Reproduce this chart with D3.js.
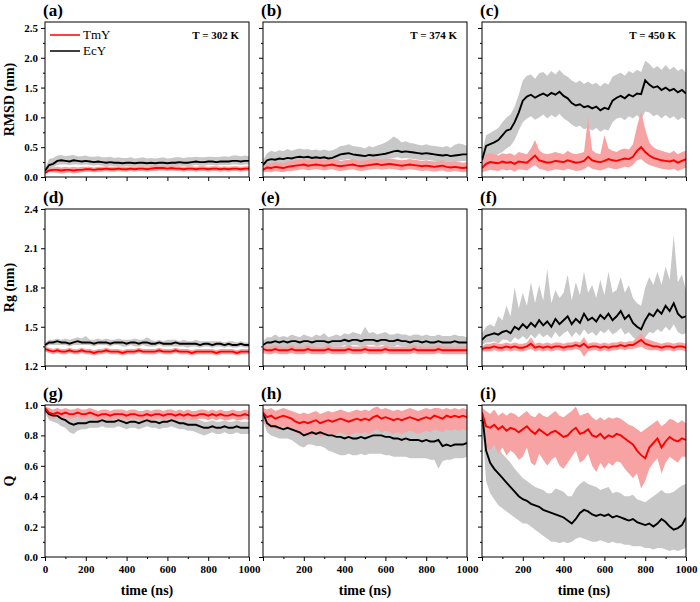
<!DOCTYPE html>
<html>
<head>
<meta charset="utf-8">
<script src="https://cdn.jsdelivr.net/npm/d3@7"></script>
<style>
  body { margin: 0; background: #fff; }
  svg { display: block; }
</style>
</head>
<body>
<div id="chart"></div>
<script>
// sampling grid (ns)
const time = d3.range(0, 1001, 20);

// ---- RMSD (nm) ----
const tmA = [0.07,0.11,0.12,0.12,0.11,0.12,0.12,0.11,0.12,0.12, 0.13,0.13,0.12,0.13,0.13,0.14,0.13,0.13,0.14,0.13, 0.13,0.14,0.13,0.14,0.14,0.13,0.14,0.15,0.15,0.15, 0.14,0.15,0.14,0.14,0.13,0.14,0.14,0.13,0.14,0.14, 0.13,0.14,0.14,0.13,0.14,0.13,0.14,0.14,0.13,0.14, 0.14];
const tmALo = [0.05,0.08,0.08,0.07,0.06,0.07,0.08,0.06,0.07,0.08, 0.09,0.09,0.08,0.09,0.09,0.10,0.09,0.09,0.10,0.09, 0.09,0.10,0.09,0.10,0.10,0.09,0.10,0.10,0.11,0.11, 0.10,0.11,0.10,0.10,0.09,0.10,0.10,0.09,0.10,0.10, 0.09,0.10,0.10,0.09,0.10,0.09,0.10,0.10,0.09,0.10, 0.10];
const tmAHi = [0.09,0.16,0.16,0.17,0.16,0.17,0.16,0.17,0.16,0.17, 0.17,0.17,0.16,0.17,0.17,0.18,0.17,0.17,0.18,0.17, 0.17,0.18,0.17,0.18,0.18,0.17,0.19,0.20,0.19,0.19, 0.18,0.19,0.18,0.18,0.17,0.18,0.18,0.17,0.18,0.18, 0.17,0.18,0.18,0.17,0.18,0.17,0.18,0.18,0.17,0.18, 0.18];
const ecA = [0.10,0.20,0.22,0.27,0.28,0.27,0.26,0.28,0.27,0.26, 0.27,0.26,0.25,0.26,0.25,0.24,0.25,0.24,0.24,0.23, 0.24,0.24,0.23,0.24,0.24,0.23,0.24,0.23,0.24,0.24, 0.23,0.24,0.24,0.25,0.24,0.24,0.25,0.26,0.25,0.25, 0.26,0.26,0.25,0.26,0.26,0.26,0.27,0.27,0.26,0.27, 0.27];
const ecALo = [0.08,0.14,0.16,0.20,0.21,0.21,0.20,0.21,0.21,0.20, 0.21,0.20,0.19,0.20,0.19,0.18,0.19,0.18,0.18,0.17, 0.18,0.18,0.17,0.18,0.18,0.17,0.18,0.17,0.18,0.18, 0.17,0.18,0.18,0.19,0.18,0.18,0.19,0.20,0.19,0.19, 0.20,0.20,0.19,0.20,0.20,0.20,0.21,0.21,0.20,0.21, 0.21];
const ecAHi = [0.14,0.30,0.32,0.36,0.37,0.35,0.36,0.37,0.35,0.35, 0.36,0.34,0.34,0.35,0.33,0.33,0.34,0.32,0.33,0.32, 0.32,0.33,0.31,0.32,0.33,0.31,0.32,0.31,0.32,0.33, 0.31,0.32,0.33,0.33,0.32,0.33,0.33,0.34,0.33,0.33, 0.34,0.34,0.33,0.34,0.35,0.34,0.36,0.36,0.35,0.36, 0.35];

const tmB = [0.12,0.16,0.15,0.17,0.16,0.15,0.17,0.18,0.19,0.20, 0.21,0.19,0.20,0.21,0.20,0.19,0.20,0.21,0.19,0.18, 0.19,0.20,0.21,0.19,0.18,0.19,0.20,0.21,0.22,0.20, 0.21,0.22,0.21,0.20,0.19,0.20,0.21,0.20,0.19,0.18, 0.19,0.18,0.17,0.18,0.19,0.17,0.16,0.17,0.16,0.15, 0.16];
const tmBLo = [0.08,0.09,0.08,0.10,0.09,0.08,0.10,0.10,0.11,0.12, 0.13,0.11,0.12,0.13,0.12,0.11,0.12,0.13,0.11,0.10, 0.11,0.12,0.13,0.11,0.10,0.11,0.12,0.13,0.14,0.12, 0.13,0.14,0.13,0.12,0.11,0.12,0.13,0.12,0.11,0.10, 0.11,0.10,0.09,0.10,0.11,0.09,0.09,0.10,0.09,0.08, 0.09];
const tmBHi = [0.16,0.24,0.23,0.25,0.24,0.23,0.26,0.27,0.28,0.29, 0.30,0.28,0.29,0.30,0.29,0.28,0.29,0.30,0.28,0.27, 0.28,0.29,0.30,0.28,0.27,0.28,0.29,0.30,0.31,0.29, 0.30,0.31,0.30,0.29,0.28,0.29,0.30,0.29,0.28,0.27, 0.28,0.27,0.26,0.27,0.28,0.26,0.25,0.26,0.25,0.24, 0.25];
const ecB = [0.20,0.28,0.30,0.29,0.31,0.30,0.32,0.31,0.33,0.34, 0.33,0.34,0.32,0.33,0.32,0.33,0.31,0.32,0.35,0.38, 0.39,0.40,0.38,0.37,0.36,0.35,0.37,0.36,0.37,0.38, 0.39,0.41,0.43,0.44,0.42,0.43,0.42,0.41,0.40,0.39, 0.40,0.39,0.38,0.37,0.36,0.37,0.35,0.36,0.37,0.38, 0.38];
const ecBLo = [0.12,0.19,0.21,0.20,0.22,0.21,0.23,0.22,0.24,0.25, 0.24,0.25,0.23,0.24,0.23,0.24,0.22,0.23,0.26,0.28, 0.29,0.30,0.28,0.27,0.26,0.25,0.27,0.26,0.27,0.28, 0.29,0.31,0.32,0.33,0.31,0.32,0.31,0.30,0.29,0.28, 0.29,0.28,0.27,0.26,0.25,0.26,0.24,0.25,0.26,0.27, 0.27];
const ecBHi = [0.28,0.40,0.44,0.42,0.45,0.43,0.47,0.44,0.46,0.48, 0.46,0.47,0.45,0.46,0.44,0.46,0.44,0.45,0.48,0.52, 0.53,0.55,0.52,0.51,0.50,0.48,0.52,0.50,0.53,0.55, 0.58,0.62,0.68,0.64,0.58,0.60,0.57,0.56,0.54,0.53, 0.55,0.53,0.52,0.51,0.50,0.52,0.49,0.54,0.56,0.55, 0.52];

const tmC = [0.15,0.22,0.25,0.24,0.23,0.26,0.24,0.25,0.22,0.26, 0.25,0.24,0.30,0.36,0.28,0.26,0.24,0.25,0.27,0.26, 0.25,0.28,0.26,0.24,0.25,0.27,0.34,0.28,0.26,0.25, 0.27,0.30,0.28,0.27,0.29,0.31,0.30,0.34,0.44,0.50, 0.42,0.36,0.32,0.30,0.28,0.27,0.26,0.28,0.24,0.27, 0.30];
const tmCLo = [0.08,0.10,0.12,0.11,0.10,0.13,0.11,0.12,0.09,0.13, 0.12,0.11,0.16,0.20,0.14,0.12,0.10,0.11,0.13,0.12, 0.11,0.14,0.12,0.10,0.11,0.13,0.18,0.14,0.12,0.11, 0.13,0.16,0.14,0.13,0.15,0.17,0.16,0.20,0.28,0.30, 0.24,0.20,0.18,0.16,0.14,0.13,0.12,0.14,0.10,0.13, 0.16];
const tmCHi = [0.25,0.38,0.40,0.38,0.36,0.40,0.38,0.40,0.36,0.42, 0.40,0.38,0.48,0.62,0.45,0.40,0.38,0.40,0.42,0.40, 0.38,0.44,0.40,0.38,0.40,0.42,1.00,0.45,0.40,0.38, 0.70,0.48,0.44,0.42,0.46,0.48,0.46,0.55,0.85,1.10, 0.80,0.58,0.50,0.46,0.44,0.42,0.40,0.44,0.38,0.42, 0.44];
const ecC = [0.28,0.52,0.55,0.58,0.62,0.70,0.78,0.80,0.92,1.08, 1.28,1.35,1.38,1.33,1.37,1.40,1.36,1.41,1.38,1.43, 1.36,1.32,1.24,1.20,1.22,1.17,1.19,1.15,1.18,1.12, 1.16,1.14,1.28,1.33,1.36,1.32,1.38,1.35,1.40,1.39, 1.62,1.55,1.50,1.52,1.46,1.50,1.45,1.48,1.42,1.46, 1.40];
const ecCLo = [0.12,0.30,0.33,0.35,0.38,0.42,0.48,0.52,0.62,0.78, 0.92,0.98,1.02,0.96,1.00,1.05,0.98,1.04,1.00,1.06, 0.98,0.94,0.88,0.84,0.86,0.80,0.82,0.78,0.82,0.76, 0.80,0.78,0.92,0.98,1.00,0.95,1.02,0.98,1.04,0.95, 1.10,1.08,1.02,1.05,0.98,1.04,0.98,1.02,0.95,1.00, 0.96];
const ecCHi = [0.40,0.70,0.74,0.78,0.82,0.92,1.00,1.05,1.18,1.38, 1.62,1.70,1.72,1.65,1.74,1.76,1.70,1.78,1.72,1.80, 1.72,1.68,1.62,1.58,1.62,1.56,1.60,1.55,1.58,1.52, 1.58,1.55,1.68,1.72,1.75,1.70,1.78,1.74,1.80,1.76, 1.95,1.90,1.82,1.86,1.80,1.88,1.80,1.85,1.78,1.82, 1.75];

// ---- Rg (nm) ----
const tmD = [1.33,1.32,1.31,1.32,1.31,1.31,1.32,1.31,1.31,1.32, 1.31,1.31,1.30,1.31,1.31,1.32,1.31,1.31,1.31,1.30, 1.31,1.31,1.31,1.32,1.31,1.31,1.31,1.31,1.32,1.31, 1.31,1.31,1.32,1.31,1.31,1.31,1.30,1.31,1.31,1.31, 1.31,1.31,1.30,1.31,1.31,1.31,1.31,1.30,1.31,1.31, 1.31];
const tmDLo = [1.31,1.30,1.29,1.30,1.29,1.29,1.30,1.29,1.29,1.30, 1.29,1.29,1.28,1.29,1.29,1.30,1.29,1.29,1.29,1.28, 1.29,1.29,1.29,1.30,1.29,1.29,1.29,1.29,1.30,1.29, 1.29,1.29,1.30,1.29,1.29,1.29,1.28,1.29,1.29,1.29, 1.29,1.29,1.28,1.29,1.29,1.29,1.29,1.28,1.29,1.29, 1.29];
const tmDHi = [1.35,1.34,1.33,1.34,1.33,1.33,1.34,1.33,1.33,1.34, 1.33,1.33,1.32,1.33,1.33,1.34,1.33,1.33,1.33,1.32, 1.33,1.33,1.33,1.34,1.33,1.33,1.33,1.33,1.34,1.33, 1.33,1.33,1.34,1.33,1.33,1.33,1.32,1.33,1.33,1.33, 1.33,1.33,1.32,1.33,1.33,1.33,1.33,1.32,1.33,1.33, 1.33];
const ecD = [1.36,1.38,1.38,1.39,1.38,1.38,1.37,1.38,1.39,1.38, 1.38,1.38,1.37,1.38,1.38,1.38,1.37,1.38,1.38,1.38, 1.37,1.38,1.38,1.37,1.38,1.38,1.37,1.37,1.38,1.37, 1.37,1.37,1.38,1.37,1.37,1.37,1.37,1.37,1.36,1.37, 1.37,1.36,1.37,1.37,1.36,1.37,1.36,1.36,1.37,1.36, 1.36];
const ecDLo = [1.34,1.36,1.36,1.36,1.36,1.36,1.35,1.36,1.36,1.36, 1.36,1.36,1.35,1.36,1.36,1.36,1.35,1.36,1.36,1.35, 1.35,1.36,1.35,1.35,1.36,1.35,1.35,1.35,1.36,1.35, 1.35,1.35,1.35,1.35,1.35,1.34,1.35,1.35,1.34,1.35, 1.35,1.34,1.35,1.35,1.34,1.35,1.34,1.34,1.35,1.34, 1.34];
const ecDHi = [1.38,1.40,1.40,1.41,1.40,1.41,1.40,1.41,1.42,1.41, 1.43,1.40,1.40,1.41,1.40,1.41,1.40,1.40,1.41,1.40, 1.40,1.40,1.41,1.40,1.40,1.42,1.40,1.39,1.40,1.39, 1.40,1.40,1.40,1.39,1.40,1.39,1.39,1.40,1.39,1.39, 1.39,1.39,1.39,1.39,1.38,1.39,1.39,1.38,1.39,1.38, 1.38];

const tmE = [1.33,1.32,1.32,1.33,1.32,1.32,1.32,1.33,1.32,1.32, 1.32,1.33,1.32,1.32,1.32,1.32,1.33,1.32,1.32,1.32, 1.32,1.33,1.32,1.32,1.32,1.33,1.32,1.32,1.32,1.32, 1.33,1.32,1.32,1.32,1.32,1.32,1.32,1.33,1.32,1.32, 1.32,1.32,1.32,1.33,1.32,1.32,1.32,1.32,1.32,1.32, 1.32];
const tmELo = [1.30,1.29,1.29,1.30,1.29,1.29,1.29,1.30,1.29,1.29, 1.29,1.30,1.29,1.29,1.29,1.29,1.30,1.29,1.29,1.29, 1.29,1.30,1.29,1.29,1.29,1.30,1.29,1.29,1.29,1.29, 1.30,1.29,1.29,1.29,1.29,1.29,1.29,1.30,1.29,1.29, 1.29,1.29,1.29,1.30,1.29,1.29,1.29,1.29,1.29,1.29, 1.29];
const tmEHi = [1.36,1.35,1.35,1.36,1.35,1.35,1.35,1.36,1.35,1.35, 1.35,1.36,1.35,1.35,1.35,1.35,1.36,1.35,1.35,1.35, 1.35,1.36,1.35,1.35,1.35,1.36,1.35,1.35,1.35,1.35, 1.36,1.35,1.35,1.35,1.35,1.35,1.35,1.36,1.35,1.35, 1.35,1.35,1.35,1.36,1.35,1.35,1.35,1.35,1.35,1.35, 1.35];
const ecE = [1.36,1.38,1.38,1.39,1.38,1.39,1.38,1.39,1.39,1.38, 1.39,1.39,1.38,1.39,1.39,1.39,1.38,1.39,1.39,1.39, 1.40,1.39,1.40,1.40,1.39,1.40,1.40,1.40,1.39,1.40, 1.40,1.39,1.39,1.40,1.39,1.39,1.38,1.39,1.39,1.38, 1.39,1.38,1.38,1.39,1.38,1.38,1.38,1.39,1.38,1.38, 1.38];
const ecELo = [1.33,1.34,1.34,1.35,1.34,1.35,1.34,1.35,1.35,1.34, 1.35,1.35,1.34,1.35,1.35,1.35,1.34,1.35,1.35,1.35, 1.36,1.35,1.36,1.36,1.35,1.36,1.36,1.36,1.35,1.36, 1.36,1.35,1.35,1.36,1.35,1.35,1.34,1.35,1.35,1.34, 1.35,1.34,1.34,1.35,1.34,1.34,1.34,1.35,1.34,1.34, 1.34];
const ecEHi = [1.39,1.42,1.42,1.44,1.42,1.43,1.42,1.44,1.43,1.42, 1.44,1.43,1.42,1.44,1.43,1.45,1.42,1.43,1.44,1.43, 1.45,1.44,1.46,1.45,1.44,1.50,1.45,1.46,1.44,1.45, 1.46,1.44,1.44,1.45,1.44,1.44,1.43,1.44,1.44,1.43, 1.44,1.43,1.43,1.44,1.43,1.43,1.43,1.44,1.43,1.43, 1.42];

const tmF = [1.33,1.34,1.34,1.35,1.34,1.34,1.35,1.34,1.35,1.34, 1.34,1.35,1.37,1.34,1.35,1.34,1.35,1.34,1.35,1.35, 1.34,1.35,1.35,1.36,1.35,1.37,1.34,1.35,1.35,1.34, 1.35,1.34,1.35,1.35,1.36,1.35,1.36,1.36,1.38,1.40, 1.37,1.36,1.35,1.35,1.34,1.35,1.35,1.34,1.35,1.35, 1.34];
const tmFLo = [1.31,1.31,1.31,1.32,1.31,1.31,1.32,1.31,1.32,1.31, 1.31,1.32,1.33,1.31,1.32,1.31,1.32,1.31,1.32,1.32, 1.31,1.32,1.32,1.33,1.32,1.27,1.31,1.32,1.32,1.31, 1.32,1.31,1.32,1.32,1.33,1.32,1.33,1.33,1.34,1.35, 1.33,1.32,1.32,1.32,1.31,1.32,1.32,1.31,1.32,1.32, 1.31];
const tmFHi = [1.35,1.37,1.37,1.38,1.37,1.37,1.38,1.37,1.38,1.37, 1.37,1.38,1.42,1.37,1.38,1.37,1.38,1.37,1.38,1.38, 1.37,1.38,1.38,1.39,1.38,1.42,1.37,1.38,1.38,1.37, 1.38,1.37,1.38,1.38,1.39,1.38,1.39,1.39,1.42,1.45, 1.41,1.40,1.39,1.38,1.37,1.38,1.38,1.37,1.38,1.38, 1.37];
const ecF = [1.40,1.43,1.44,1.45,1.44,1.46,1.47,1.45,1.50,1.48, 1.52,1.49,1.53,1.50,1.55,1.51,1.54,1.50,1.56,1.52, 1.55,1.58,1.52,1.56,1.53,1.60,1.55,1.57,1.54,1.59, 1.56,1.60,1.55,1.58,1.62,1.56,1.59,1.53,1.50,1.48, 1.55,1.60,1.58,1.63,1.60,1.66,1.62,1.68,1.60,1.57, 1.58];
const ecFLo = [1.36,1.38,1.38,1.39,1.37,1.40,1.40,1.38,1.42,1.40, 1.43,1.40,1.44,1.41,1.45,1.42,1.44,1.41,1.46,1.42, 1.45,1.47,1.42,1.46,1.43,1.48,1.44,1.46,1.43,1.47, 1.45,1.48,1.44,1.46,1.49,1.44,1.46,1.42,1.40,1.38, 1.42,1.46,1.45,1.48,1.46,1.50,1.47,1.52,1.46,1.44, 1.45];
const ecFHi = [1.45,1.50,1.52,1.50,1.58,1.55,1.66,1.58,1.80,1.64, 1.76,1.66,1.84,1.68,1.82,1.70,1.94,1.68,1.78,1.72, 1.76,1.90,1.70,1.84,1.74,1.92,1.76,1.82,1.72,1.86, 1.74,1.92,1.76,1.78,1.88,1.76,1.82,1.72,1.68,1.66, 1.80,1.88,1.82,1.92,1.82,1.96,1.86,2.20,1.84,1.90, 1.78];

// ---- Q ----
const tmG = [0.98,0.95,0.94,0.95,0.94,0.95,0.94,0.94,0.95,0.94, 0.94,0.95,0.94,0.93,0.94,0.94,0.93,0.94,0.94,0.94, 0.93,0.94,0.94,0.93,0.93,0.94,0.93,0.94,0.94,0.93, 0.94,0.94,0.93,0.94,0.93,0.94,0.93,0.93,0.94,0.94, 0.93,0.94,0.93,0.94,0.93,0.93,0.94,0.93,0.93,0.94, 0.93];
const tmGLo = [0.96,0.92,0.91,0.92,0.91,0.92,0.91,0.91,0.92,0.91, 0.91,0.92,0.91,0.90,0.91,0.91,0.90,0.91,0.91,0.91, 0.90,0.91,0.91,0.90,0.90,0.91,0.90,0.91,0.91,0.90, 0.91,0.91,0.90,0.91,0.90,0.91,0.90,0.90,0.91,0.91, 0.90,0.91,0.90,0.91,0.90,0.90,0.91,0.90,0.90,0.91, 0.90];
const tmGHi = [0.99,0.98,0.97,0.98,0.97,0.98,0.97,0.97,0.98,0.97, 0.97,0.98,0.97,0.96,0.97,0.97,0.96,0.97,0.97,0.97, 0.96,0.97,0.97,0.96,0.96,0.97,0.96,0.97,0.97,0.96, 0.97,0.97,0.96,0.97,0.96,0.97,0.96,0.96,0.97,0.97, 0.96,0.97,0.96,0.97,0.96,0.96,0.97,0.96,0.96,0.97, 0.96];
const ecG = [0.97,0.94,0.93,0.93,0.91,0.90,0.88,0.87,0.88,0.88, 0.88,0.89,0.89,0.89,0.90,0.89,0.89,0.89,0.90,0.89, 0.88,0.89,0.89,0.88,0.89,0.90,0.89,0.89,0.88,0.89, 0.89,0.90,0.89,0.88,0.88,0.87,0.87,0.87,0.86,0.85, 0.85,0.86,0.85,0.85,0.86,0.85,0.85,0.86,0.85,0.85, 0.85];
const ecGLo = [0.95,0.90,0.89,0.88,0.86,0.85,0.82,0.81,0.83,0.84, 0.84,0.85,0.85,0.85,0.86,0.85,0.85,0.85,0.86,0.85, 0.84,0.85,0.85,0.84,0.85,0.86,0.85,0.85,0.84,0.85, 0.85,0.86,0.85,0.84,0.84,0.83,0.83,0.82,0.81,0.80, 0.81,0.82,0.81,0.81,0.82,0.81,0.81,0.82,0.81,0.81, 0.81];
const ecGHi = [0.99,0.97,0.96,0.96,0.95,0.94,0.92,0.91,0.92,0.92, 0.92,0.93,0.93,0.93,0.94,0.93,0.93,0.93,0.94,0.93, 0.92,0.93,0.93,0.92,0.93,0.94,0.93,0.93,0.92,0.93, 0.93,0.94,0.93,0.92,0.92,0.91,0.91,0.91,0.90,0.89, 0.89,0.90,0.89,0.89,0.90,0.89,0.89,0.90,0.89,0.89, 0.89];

const tmH = [0.95,0.92,0.93,0.91,0.92,0.93,0.92,0.91,0.89,0.88, 0.89,0.88,0.89,0.90,0.88,0.89,0.90,0.89,0.90,0.91, 0.90,0.89,0.90,0.91,0.90,0.91,0.90,0.92,0.93,0.91, 0.92,0.91,0.90,0.91,0.90,0.91,0.92,0.91,0.90,0.91, 0.92,0.91,0.93,0.92,0.91,0.93,0.92,0.93,0.92,0.93, 0.92];
const tmHLo = [0.90,0.85,0.86,0.84,0.85,0.86,0.85,0.84,0.82,0.80, 0.81,0.79,0.80,0.82,0.79,0.80,0.81,0.80,0.81,0.82, 0.81,0.80,0.81,0.82,0.81,0.82,0.81,0.83,0.84,0.82, 0.83,0.82,0.81,0.82,0.81,0.82,0.83,0.82,0.81,0.82, 0.83,0.82,0.84,0.83,0.82,0.84,0.83,0.84,0.83,0.84, 0.83];
const tmHHi = [0.98,0.97,0.98,0.96,0.97,0.98,0.97,0.96,0.95,0.94, 0.95,0.94,0.95,0.96,0.94,0.95,0.96,0.95,0.96,0.97, 0.96,0.95,0.96,0.97,0.96,0.97,0.96,0.98,0.99,0.97, 0.98,0.97,0.96,0.97,0.96,0.97,0.98,0.97,0.96,0.97, 0.98,0.97,0.98,0.98,0.97,0.98,0.97,0.98,0.97,0.98, 0.97];
const ecH = [0.95,0.88,0.86,0.86,0.85,0.84,0.85,0.84,0.83,0.82, 0.80,0.81,0.82,0.81,0.82,0.81,0.80,0.80,0.79,0.79, 0.78,0.79,0.78,0.78,0.79,0.78,0.79,0.80,0.80,0.80, 0.79,0.79,0.78,0.78,0.77,0.78,0.77,0.77,0.77,0.76, 0.77,0.76,0.76,0.77,0.73,0.74,0.73,0.74,0.74,0.74, 0.75];
const ecHLo = [0.90,0.82,0.80,0.79,0.78,0.78,0.78,0.77,0.75,0.73, 0.72,0.74,0.74,0.73,0.73,0.72,0.70,0.69,0.68,0.67, 0.67,0.68,0.67,0.67,0.68,0.67,0.68,0.68,0.68,0.68, 0.67,0.67,0.66,0.66,0.66,0.66,0.65,0.65,0.65,0.65, 0.65,0.64,0.64,0.58,0.63,0.64,0.64,0.65,0.65,0.65, 0.66];
const ecHHi = [0.98,0.92,0.90,0.90,0.89,0.88,0.88,0.88,0.87,0.86, 0.86,0.86,0.87,0.86,0.87,0.86,0.86,0.86,0.85,0.86, 0.85,0.86,0.86,0.87,0.88,0.88,0.89,0.89,0.88,0.87, 0.86,0.86,0.85,0.86,0.85,0.86,0.86,0.85,0.85,0.84, 0.85,0.86,0.88,0.87,0.86,0.88,0.87,0.88,0.87,0.86, 0.86];

const tmI = [0.95,0.86,0.85,0.87,0.84,0.86,0.83,0.85,0.84,0.82, 0.84,0.86,0.83,0.81,0.84,0.82,0.80,0.82,0.83,0.81, 0.79,0.80,0.83,0.85,0.81,0.82,0.84,0.80,0.79,0.81, 0.78,0.80,0.79,0.81,0.80,0.78,0.76,0.74,0.70,0.67, 0.65,0.72,0.75,0.78,0.72,0.76,0.79,0.77,0.76,0.78, 0.77];
const tmILo = [0.90,0.72,0.70,0.74,0.68,0.72,0.67,0.70,0.68,0.64, 0.66,0.72,0.62,0.60,0.68,0.64,0.60,0.64,0.66,0.60, 0.58,0.62,0.66,0.70,0.62,0.64,0.68,0.60,0.56,0.62, 0.58,0.62,0.60,0.63,0.62,0.58,0.55,0.52,0.55,0.45, 0.50,0.58,0.62,0.65,0.55,0.62,0.66,0.64,0.62,0.66, 0.66];
const tmIHi = [0.98,0.96,0.94,0.97,0.93,0.95,0.93,0.95,0.94,0.92, 0.94,0.96,0.93,0.92,0.95,0.93,0.92,0.94,0.96,0.93, 0.92,0.94,0.96,0.99,0.93,0.94,0.95,0.92,0.90,0.92, 0.90,0.92,0.91,0.92,0.91,0.89,0.87,0.86,0.84,0.82, 0.84,0.86,0.88,0.90,0.86,0.88,0.91,0.90,0.88,0.90, 0.88];
const ecI = [0.95,0.70,0.62,0.58,0.55,0.52,0.49,0.46,0.43,0.40, 0.38,0.37,0.35,0.34,0.33,0.31,0.30,0.29,0.28,0.27, 0.26,0.24,0.22,0.25,0.29,0.31,0.30,0.28,0.27,0.28, 0.27,0.28,0.26,0.27,0.26,0.25,0.24,0.25,0.23,0.22, 0.21,0.22,0.20,0.22,0.25,0.23,0.20,0.18,0.19,0.21, 0.26];
const ecILo = [0.90,0.50,0.42,0.38,0.34,0.32,0.30,0.28,0.26,0.24, 0.22,0.22,0.20,0.18,0.16,0.14,0.12,0.10,0.10,0.09, 0.10,0.09,0.10,0.12,0.13,0.12,0.11,0.10,0.10,0.11, 0.10,0.09,0.10,0.09,0.09,0.08,0.08,0.07,0.07,0.07, 0.06,0.06,0.05,0.06,0.06,0.05,0.04,0.05,0.04,0.05, 0.06];
const ecIHi = [0.98,0.82,0.78,0.74,0.72,0.68,0.65,0.62,0.58,0.55, 0.52,0.50,0.48,0.46,0.45,0.44,0.42,0.42,0.45,0.44, 0.43,0.40,0.40,0.45,0.48,0.50,0.48,0.47,0.46,0.44, 0.45,0.46,0.42,0.43,0.42,0.40,0.40,0.41,0.38,0.37, 0.36,0.38,0.40,0.42,0.44,0.42,0.42,0.43,0.45,0.47, 0.48];

const temps = ["T = 302 K", "T = 374 K", "T = 450 K"];
const panelLabels = ["(a)","(b)","(c)","(d)","(e)","(f)","(g)","(h)","(i)"];
const seriesNames = ["TmY", "EcY"];
const xTicks = [0, 200, 400, 600, 800, 1000];
const xMinor = [100, 300, 500, 700, 900];

const rows = [
  { title: "RMSD (nm)", domain: [0, 2.6], ticks: [0, 0.5, 1.0, 1.5, 2.0, 2.5], minor: [0.25, 0.75, 1.25, 1.75, 2.25] },
  { title: "Rg (nm)", domain: [1.2, 2.4], ticks: [1.2, 1.5, 1.8, 2.1, 2.4], minor: [1.35, 1.65, 1.95, 2.25] },
  { title: "Q", domain: [0, 1.0], ticks: [0, 0.2, 0.4, 0.6, 0.8, 1.0], minor: [0.1, 0.3, 0.5, 0.7, 0.9] }
];

const panels = [
  { tm: [tmA, tmALo, tmAHi], ec: [ecA, ecALo, ecAHi] },
  { tm: [tmB, tmBLo, tmBHi], ec: [ecB, ecBLo, ecBHi] },
  { tm: [tmC, tmCLo, tmCHi], ec: [ecC, ecCLo, ecCHi] },
  { tm: [tmD, tmDLo, tmDHi], ec: [ecD, ecDLo, ecDHi] },
  { tm: [tmE, tmELo, tmEHi], ec: [ecE, ecELo, ecEHi] },
  { tm: [tmF, tmFLo, tmFHi], ec: [ecF, ecFLo, ecFHi] },
  { tm: [tmG, tmGLo, tmGHi], ec: [ecG, ecGLo, ecGHi] },
  { tm: [tmH, tmHLo, tmHHi], ec: [ecH, ecHLo, ecHHi] },
  { tm: [tmI, tmILo, tmIHi], ec: [ecI, ecILo, ecIHi] }
];

const W = 700, H = 602;
const colX = [45, 263, 482], colW = 204;
const rowY = [22, 209, 405], rowH = [155, 157, 152];
const font = "'Liberation Serif', 'Times New Roman', serif";

const svg = d3.select("#chart").append("svg")
  .attr("width", W).attr("height", H)
  .style("font-family", font);

panels.forEach((p, k) => {
  const r = Math.floor(k / 3), c = k % 3;
  const w = colW, h = rowH[r];
  const g = svg.append("g").attr("transform", `translate(${colX[c]},${rowY[r]})`);

  const x = d3.scaleLinear().domain([0, 1000]).range([0, w]);
  const y = d3.scaleLinear().domain(rows[r].domain).range([h, 0]);

  g.append("clipPath").attr("id", "clip" + k)
    .append("rect").attr("width", w).attr("height", h);
  const plot = g.append("g").attr("clip-path", `url(#clip${k})`);

  const band = (lo, hi) => d3.area()
    .x((d, i) => x(time[i]))
    .y0((d, i) => y(lo[i]))
    .y1((d, i) => y(hi[i]))(time);
  const line = vals => d3.line()
    .x((d, i) => x(time[i]))
    .y(d => y(d))(vals);

  plot.append("path").attr("d", band(p.ec[1], p.ec[2])).attr("fill", "#c8c8c8");
  plot.append("path").attr("d", band(p.tm[1], p.tm[2])).attr("fill", "#f7a3a3");
  plot.append("path").attr("d", line(p.ec[0])).attr("fill", "none").attr("stroke", "#000").attr("stroke-width", 1.9);
  plot.append("path").attr("d", line(p.tm[0])).attr("fill", "none").attr("stroke", "#ff0000").attr("stroke-width", 1.9);

  // axes
  const yAx = g.append("g").call(d3.axisLeft(y).tickValues(rows[r].ticks).tickSize(4).tickPadding(3)
    .tickFormat(c === 0 ? d3.format(".1f") : () => ""));
  const yMin = g.append("g").call(d3.axisLeft(y).tickValues(rows[r].minor).tickSize(2).tickFormat(() => ""));
  const xAx = g.append("g").attr("transform", `translate(0,${h})`)
    .call(d3.axisBottom(x).tickValues(xTicks).tickSize(4).tickPadding(4)
      .tickFormat(d => (r === 2 && !(c > 0 && d === 0)) ? d : ""));
  const xMin = g.append("g").attr("transform", `translate(0,${h})`)
    .call(d3.axisBottom(x).tickValues(xMinor).tickSize(2).tickFormat(() => ""));
  [yAx, yMin, xAx, xMin].forEach(a => {
    a.select(".domain").remove();
    a.selectAll("line").attr("stroke", "#000");
    a.selectAll("text").attr("fill", "#000")
      .style("font-family", font).style("font-size", "11px").style("font-weight", "bold");
  });

  g.append("rect").attr("width", w).attr("height", h)
    .attr("fill", "none").attr("stroke", "#000").attr("stroke-width", 1);

  g.append("text").attr("x", -2).attr("y", -6)
    .style("font-size", "17px").style("font-weight", "bold").text(panelLabels[k]);

  if (r === 0) {
    g.append("text").attr("x", w - 10).attr("y", 17).attr("text-anchor", "end")
      .style("font-size", "11px").style("font-weight", "bold").text(temps[c]);
  }
  if (r === 2) {
    g.append("text").attr("x", w / 2).attr("y", h + 38).attr("text-anchor", "middle")
      .style("font-size", "14px").style("font-weight", "bold").text("time (ns)");
  }
  if (c === 0) {
    g.append("text").attr("transform", `translate(-31,${h / 2}) rotate(-90)`)
      .attr("text-anchor", "middle")
      .style("font-size", "14px").style("font-weight", "bold").text(rows[r].title);
  }

  // legend
  if (k === 0) {
    const leg = g.append("g").attr("transform", "translate(5,13)");
    [["#ff0000", seriesNames[0]], ["#000", seriesNames[1]]].forEach(([col, name], i) => {
      leg.append("line").attr("x1", 0).attr("x2", 30).attr("y1", i * 16).attr("y2", i * 16)
        .attr("stroke", col).attr("stroke-width", 1.5);
      leg.append("text").attr("x", 33).attr("y", i * 16 + 4)
        .style("font-size", "13px").text(name);
    });
  }
});
</script>
</body>
</html>
